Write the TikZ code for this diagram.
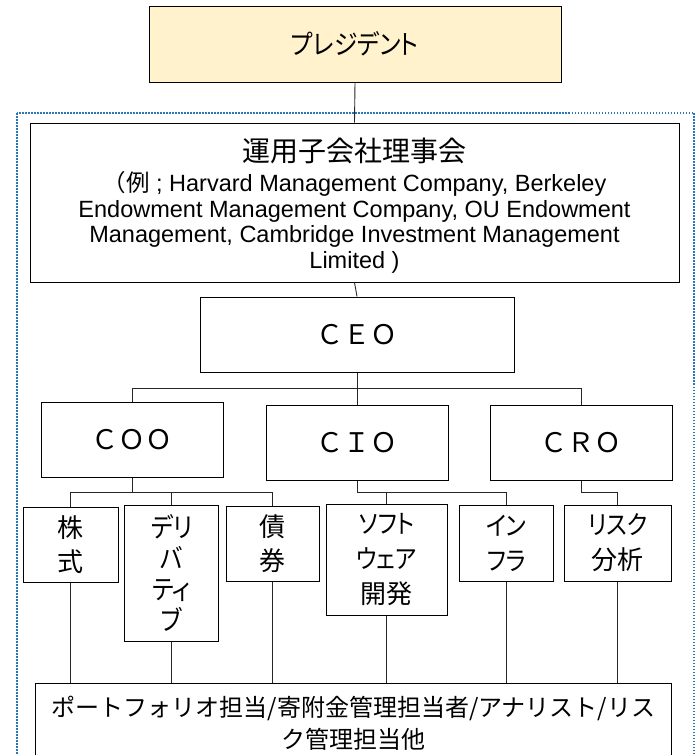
\documentclass[tikz,border=0pt]{standalone}
\usepackage{fontspec}
\setmainfont{Liberation Sans}
\newfontfamily\jp{Noto Sans CJK JP}
\newfontfamily\jpp{Noto Sans CJK JP}[RawFeature=+palt]
\newfontfamily\jpn{Noto Sans CJK JP}[RawFeature=+palt,FakeStretch=0.88]
\definecolor{presfill}{RGB}{255,242,204}
\definecolor{dotblue}{RGB}{46,117,182}
\begin{document}
\begin{tikzpicture}[x=1pt,y=-1pt,
  box/.style={draw=black,line width=1pt,inner sep=0pt,align=center},
  lvtwo/.style={box,minimum width=182pt,minimum height=75pt,font=\jp\fontsize{27}{30}\selectfont},
  lvthree/.style={box,font=\jp\fontsize{26}{35}\selectfont},
  conn/.style={draw=black!85,line width=0.9pt},
  frame/.style={draw=dotblue,line width=1.5pt,dash pattern=on 1.5pt off 1.5pt}]
\useasboundingbox (0,0) rectangle (697,755);
\clip (0,0) rectangle (697,755);
\draw[frame] (17,113) rectangle (694,800);
% nodes
\node[box,fill=presfill,minimum width=412pt,minimum height=76pt,font=\jpn\fontsize{27}{30}\selectfont] (pres) at (355,44) {プレジデント};
\node[box,minimum width=649pt,minimum height=159pt] (board) at (354.5,202.5) {};
\node[align=center,inner sep=0pt,font=\fontsize{23.5}{25.5}\selectfont] (boardtext) at (354.5,205.5)
  {{\jp\fontsize{28}{31}\selectfont 運用子会社理事会}\\[5pt]{\jp （例} ; Harvard Management Company, Berkeley\\Endowment Management Company, OU Endowment\\Management, Cambridge Investment Management\\Limited )};
\node[box,minimum width=314pt,minimum height=75pt,font=\jp\fontsize{27}{30}\selectfont] (ceo) at (357,334.5) {ＣＥＯ};
\node[lvtwo] (coo) at (132,440) {ＣＯＯ};
\node[lvtwo] (cio) at (357,442.5) {ＣＩＯ};
\node[lvtwo] (cro) at (581,442.5) {ＣＲＯ};
\node[lvthree,minimum width=95pt,minimum height=75pt,font=\jp\fontsize{26}{34}\selectfont] (kabu) at (70.5,545) {株\\式};
\node[lvthree,minimum width=94pt,minimum height=136pt,font=\jpn\fontsize{27}{31}\selectfont] (deri) at (171.6,573) {デリ\\バ\\ティ\\ブ};
\node[lvthree,minimum width=93.5pt,minimum height=75pt,font=\jp\fontsize{26}{34}\selectfont] (sai) at (272.75,544) {債\\券};
\node[lvthree,minimum width=121.5pt,minimum height=111pt] (soft) at (386.75,560) {{\jpn ソフト}\\{\jpn ウェア}\\開発};
\node[lvthree,minimum width=93.5pt,minimum height=76pt] (infra) at (506.25,543) {{\jpn イン}\\{\jpn フラ}};
\node[lvthree,minimum width=107.5pt,minimum height=76pt] (risk) at (617.75,543) {{\jpn リスク}\\分析};
\node[box,minimum width=636pt,minimum height=120pt,anchor=north] (staff) at (353.5,683) {};
\node[font=\jp\fontsize{24}{32}\selectfont,align=center,inner sep=0pt] (stafftext) at (353.5,723) {ポートフォリオ担当/寄附金管理担当者/アナリスト/リス\\ク管理担当他};
% connectors
\coordinate (busy) at (0,388);
\coordinate (suby) at (0,492);
\draw[conn] (pres.south) -- (board.north);
\draw[conn] (board.south) -- (ceo.north);
\draw[conn] (ceo.south) -- (ceo.south |- busy);
\draw[conn] (coo.north) -- (coo.north |- busy) -- (cro.north |- busy) -- (cro.north);
\draw[conn] (cio.north) -- (cio.north |- busy);
\draw[conn] (coo.south) -- (coo.south |- suby);
\draw[conn] (kabu.north) -- (kabu.north |- suby) -- (sai.north |- suby) -- (sai.north);
\draw[conn] (deri.north) -- (deri.north |- suby);
\draw[conn] (cio.south) -- (cio.south |- suby) -- (infra.north |- suby) -- (infra.north);
\draw[conn] (soft.north) -- (soft.north |- suby);
\draw[conn] (cro.south) -- (cro.south |- suby) -- (risk.north |- suby) -- (risk.north);
\foreach \n in {kabu,deri,sai,soft,infra,risk} \draw[conn] (\n.south) -- (\n.south |- staff.north);
\end{tikzpicture}
\end{document}
